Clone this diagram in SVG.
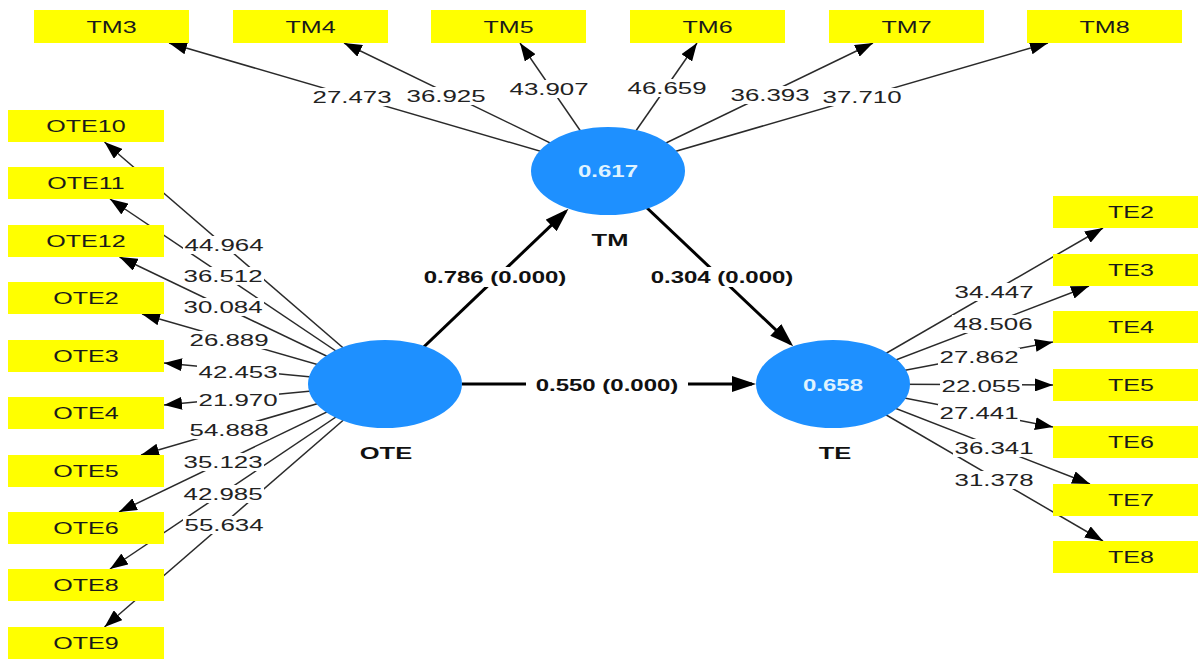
<svg xmlns="http://www.w3.org/2000/svg" width="1198" height="660" viewBox="0 0 1198 660">
<defs>
<marker id="ah" markerUnits="userSpaceOnUse" markerWidth="18" markerHeight="13" refX="18" refY="6.5" orient="auto"><path d="M0,0 L18,6.5 L0,13 z" fill="#000"/></marker>
<marker id="ahb" markerUnits="userSpaceOnUse" markerWidth="24" markerHeight="16" refX="20" refY="8" orient="auto"><path d="M0,0 L24,8 L0,16 z" fill="#000"/></marker>
</defs>
<style>
.ind{stroke:#2a2a2a;stroke-width:1.5;fill:none;marker-end:url(#ah)}
.str{stroke:#000;stroke-width:3;fill:none;marker-end:url(#ahb)}
.bg{fill:#fff}
.num{font-family:"Liberation Sans",Arial,sans-serif;font-size:17px;fill:#222;text-anchor:middle}
.pth{font-family:"Liberation Sans",Arial,sans-serif;font-size:16px;font-weight:bold;fill:#111;text-anchor:middle}
.box{fill:#ffff00}
.bl{font-family:"Liberation Sans",Arial,sans-serif;font-size:16.5px;fill:#1a1a1a;text-anchor:middle}
.lv{fill:#1e90ff}
.val{font-family:"Liberation Sans",Arial,sans-serif;font-size:16px;font-weight:bold;fill:#dff3ff;text-anchor:middle}
.cl{font-family:"Liberation Sans",Arial,sans-serif;font-size:17px;font-weight:bold;fill:#111;text-anchor:middle}
</style>
<g id="connectors">
<line class="ind" x1="608" y1="171" x2="169" y2="43"/>
<line class="ind" x1="608" y1="171" x2="344" y2="43"/>
<line class="ind" x1="608" y1="171" x2="520" y2="43"/>
<line class="ind" x1="608" y1="171" x2="697" y2="43"/>
<line class="ind" x1="608" y1="171" x2="873" y2="43"/>
<line class="ind" x1="608" y1="171" x2="1048" y2="43"/>
<line class="ind" x1="385" y1="384" x2="104.5" y2="142"/>
<line class="ind" x1="385" y1="384" x2="110" y2="199"/>
<line class="ind" x1="385" y1="384" x2="119.5" y2="257"/>
<line class="ind" x1="385" y1="384" x2="142" y2="314"/>
<line class="ind" x1="385" y1="384" x2="164" y2="363"/>
<line class="ind" x1="385" y1="384" x2="164" y2="405"/>
<line class="ind" x1="385" y1="384" x2="141" y2="455"/>
<line class="ind" x1="385" y1="384" x2="119" y2="512"/>
<line class="ind" x1="385" y1="384" x2="110" y2="569"/>
<line class="ind" x1="385" y1="384" x2="104.5" y2="627"/>
<line class="ind" x1="833" y1="384" x2="1103" y2="228"/>
<line class="ind" x1="833" y1="384" x2="1089" y2="286"/>
<line class="ind" x1="833" y1="384" x2="1053" y2="342"/>
<line class="ind" x1="833" y1="384" x2="1053" y2="385"/>
<line class="ind" x1="833" y1="384" x2="1053" y2="427"/>
<line class="ind" x1="833" y1="384" x2="1090" y2="484"/>
<line class="ind" x1="833" y1="384" x2="1103" y2="541"/>
<line class="str" x1="385" y1="384" x2="565.6" y2="211.6"/>
<line class="str" x1="608" y1="171" x2="790.3" y2="343.6"/>
<line class="str" x1="462" y1="384" x2="752" y2="384"/>
<g transform="translate(352 97)"><rect class="bg" x="-41" y="-9" width="82" height="18"/><text class="num" transform="scale(1.52 1)" dy=".35em">27.473</text></g>
<g transform="translate(446 96)"><rect class="bg" x="-41" y="-9" width="82" height="18"/><text class="num" transform="scale(1.52 1)" dy=".35em">36.925</text></g>
<g transform="translate(549 89)"><rect class="bg" x="-41" y="-9" width="82" height="18"/><text class="num" transform="scale(1.52 1)" dy=".35em">43.907</text></g>
<g transform="translate(667 88)"><rect class="bg" x="-41" y="-9" width="82" height="18"/><text class="num" transform="scale(1.52 1)" dy=".35em">46.659</text></g>
<g transform="translate(770 95)"><rect class="bg" x="-41" y="-9" width="82" height="18"/><text class="num" transform="scale(1.52 1)" dy=".35em">36.393</text></g>
<g transform="translate(862 97)"><rect class="bg" x="-41" y="-9" width="82" height="18"/><text class="num" transform="scale(1.52 1)" dy=".35em">37.710</text></g>
<g transform="translate(224 245)"><rect class="bg" x="-41" y="-9" width="82" height="18"/><text class="num" transform="scale(1.52 1)" dy=".35em">44.964</text></g>
<g transform="translate(223 276)"><rect class="bg" x="-41" y="-9" width="82" height="18"/><text class="num" transform="scale(1.52 1)" dy=".35em">36.512</text></g>
<g transform="translate(223 307)"><rect class="bg" x="-41" y="-9" width="82" height="18"/><text class="num" transform="scale(1.52 1)" dy=".35em">30.084</text></g>
<g transform="translate(229 340)"><rect class="bg" x="-41" y="-9" width="82" height="18"/><text class="num" transform="scale(1.52 1)" dy=".35em">26.889</text></g>
<g transform="translate(238 372)"><rect class="bg" x="-41" y="-9" width="82" height="18"/><text class="num" transform="scale(1.52 1)" dy=".35em">42.453</text></g>
<g transform="translate(238 400)"><rect class="bg" x="-41" y="-9" width="82" height="18"/><text class="num" transform="scale(1.52 1)" dy=".35em">21.970</text></g>
<g transform="translate(229 430)"><rect class="bg" x="-41" y="-9" width="82" height="18"/><text class="num" transform="scale(1.52 1)" dy=".35em">54.888</text></g>
<g transform="translate(223 462)"><rect class="bg" x="-41" y="-9" width="82" height="18"/><text class="num" transform="scale(1.52 1)" dy=".35em">35.123</text></g>
<g transform="translate(223 494)"><rect class="bg" x="-41" y="-9" width="82" height="18"/><text class="num" transform="scale(1.52 1)" dy=".35em">42.985</text></g>
<g transform="translate(224 525)"><rect class="bg" x="-41" y="-9" width="82" height="18"/><text class="num" transform="scale(1.52 1)" dy=".35em">55.634</text></g>
<g transform="translate(994 292)"><rect class="bg" x="-41" y="-9" width="82" height="18"/><text class="num" transform="scale(1.52 1)" dy=".35em">34.447</text></g>
<g transform="translate(993 324)"><rect class="bg" x="-41" y="-9" width="82" height="18"/><text class="num" transform="scale(1.52 1)" dy=".35em">48.506</text></g>
<g transform="translate(979 357)"><rect class="bg" x="-41" y="-9" width="82" height="18"/><text class="num" transform="scale(1.52 1)" dy=".35em">27.862</text></g>
<g transform="translate(981 386)"><rect class="bg" x="-41" y="-9" width="82" height="18"/><text class="num" transform="scale(1.52 1)" dy=".35em">22.055</text></g>
<g transform="translate(979 413)"><rect class="bg" x="-41" y="-9" width="82" height="18"/><text class="num" transform="scale(1.52 1)" dy=".35em">27.441</text></g>
<g transform="translate(994 448)"><rect class="bg" x="-41" y="-9" width="82" height="18"/><text class="num" transform="scale(1.52 1)" dy=".35em">36.341</text></g>
<g transform="translate(994 480)"><rect class="bg" x="-41" y="-9" width="82" height="18"/><text class="num" transform="scale(1.52 1)" dy=".35em">31.378</text></g>
<g transform="translate(495 277)"><rect class="bg" x="-81" y="-10" width="162" height="20"/><text class="pth" transform="scale(1.5 1)" dy=".35em">0.786 (0.000)</text></g>
<g transform="translate(722 277)"><rect class="bg" x="-81" y="-10" width="162" height="20"/><text class="pth" transform="scale(1.5 1)" dy=".35em">0.304 (0.000)</text></g>
<g transform="translate(607 385)"><rect class="bg" x="-81" y="-10" width="162" height="20"/><text class="pth" transform="scale(1.5 1)" dy=".35em">0.550 (0.000)</text></g>
</g>
<g id="TM3"><rect class="box" x="34" y="10" width="155" height="33"/><text class="bl" transform="translate(111.5 27) scale(1.52 1)" dy=".35em">TM3</text></g>
<g id="TM4"><rect class="box" x="233" y="10" width="155" height="33"/><text class="bl" transform="translate(310.5 27) scale(1.52 1)" dy=".35em">TM4</text></g>
<g id="TM5"><rect class="box" x="431" y="10" width="155" height="33"/><text class="bl" transform="translate(508.5 27) scale(1.52 1)" dy=".35em">TM5</text></g>
<g id="TM6"><rect class="box" x="630" y="10" width="155" height="33"/><text class="bl" transform="translate(707.5 27) scale(1.52 1)" dy=".35em">TM6</text></g>
<g id="TM7"><rect class="box" x="829" y="10" width="155" height="33"/><text class="bl" transform="translate(906.5 27) scale(1.52 1)" dy=".35em">TM7</text></g>
<g id="TM8"><rect class="box" x="1027" y="10" width="155" height="33"/><text class="bl" transform="translate(1104.5 27) scale(1.52 1)" dy=".35em">TM8</text></g>
<g id="OTE10"><rect class="box" x="8" y="110" width="156" height="32"/><text class="bl" transform="translate(86 126) scale(1.52 1)" dy=".35em">OTE10</text></g>
<g id="OTE11"><rect class="box" x="8" y="167" width="156" height="32"/><text class="bl" transform="translate(86 183) scale(1.52 1)" dy=".35em">OTE11</text></g>
<g id="OTE12"><rect class="box" x="8" y="225" width="156" height="32"/><text class="bl" transform="translate(86 241) scale(1.52 1)" dy=".35em">OTE12</text></g>
<g id="OTE2"><rect class="box" x="8" y="282" width="156" height="32"/><text class="bl" transform="translate(86 298) scale(1.52 1)" dy=".35em">OTE2</text></g>
<g id="OTE3"><rect class="box" x="8" y="340" width="156" height="32"/><text class="bl" transform="translate(86 356) scale(1.52 1)" dy=".35em">OTE3</text></g>
<g id="OTE4"><rect class="box" x="8" y="397" width="156" height="32"/><text class="bl" transform="translate(86 413) scale(1.52 1)" dy=".35em">OTE4</text></g>
<g id="OTE5"><rect class="box" x="8" y="455" width="156" height="32"/><text class="bl" transform="translate(86 471) scale(1.52 1)" dy=".35em">OTE5</text></g>
<g id="OTE6"><rect class="box" x="8" y="512" width="156" height="32"/><text class="bl" transform="translate(86 528) scale(1.52 1)" dy=".35em">OTE6</text></g>
<g id="OTE8"><rect class="box" x="8" y="569" width="156" height="32"/><text class="bl" transform="translate(86 585) scale(1.52 1)" dy=".35em">OTE8</text></g>
<g id="OTE9"><rect class="box" x="8" y="627" width="156" height="32"/><text class="bl" transform="translate(86 643) scale(1.52 1)" dy=".35em">OTE9</text></g>
<g id="TE2"><rect class="box" x="1053" y="196" width="155" height="32"/><text class="bl" transform="translate(1131 212) scale(1.52 1)" dy=".35em">TE2</text></g>
<g id="TE3"><rect class="box" x="1053" y="254" width="155" height="32"/><text class="bl" transform="translate(1131 270) scale(1.52 1)" dy=".35em">TE3</text></g>
<g id="TE4"><rect class="box" x="1053" y="311" width="155" height="32"/><text class="bl" transform="translate(1131 327) scale(1.52 1)" dy=".35em">TE4</text></g>
<g id="TE5"><rect class="box" x="1053" y="369" width="155" height="32"/><text class="bl" transform="translate(1131 385) scale(1.52 1)" dy=".35em">TE5</text></g>
<g id="TE6"><rect class="box" x="1053" y="426" width="155" height="32"/><text class="bl" transform="translate(1131 442) scale(1.52 1)" dy=".35em">TE6</text></g>
<g id="TE7"><rect class="box" x="1053" y="484" width="155" height="32"/><text class="bl" transform="translate(1131 500) scale(1.52 1)" dy=".35em">TE7</text></g>
<g id="TE8"><rect class="box" x="1053" y="541" width="155" height="32"/><text class="bl" transform="translate(1131 557) scale(1.52 1)" dy=".35em">TE8</text></g>
<g id="TM"><ellipse class="lv" cx="608" cy="171" rx="77" ry="44"/><text class="val" transform="translate(608 171) scale(1.5 1)" dy=".35em">0.617</text><text class="cl" transform="translate(610 240) scale(1.5 1)" dy=".35em">TM</text></g>
<g id="OTE"><ellipse class="lv" cx="385" cy="384" rx="77" ry="44"/><text class="cl" transform="translate(386 453) scale(1.5 1)" dy=".35em">OTE</text></g>
<g id="TE"><ellipse class="lv" cx="833" cy="384" rx="77" ry="44"/><text class="val" transform="translate(833 385) scale(1.5 1)" dy=".35em">0.658</text><text class="cl" transform="translate(835 453) scale(1.5 1)" dy=".35em">TE</text></g>
</svg>
